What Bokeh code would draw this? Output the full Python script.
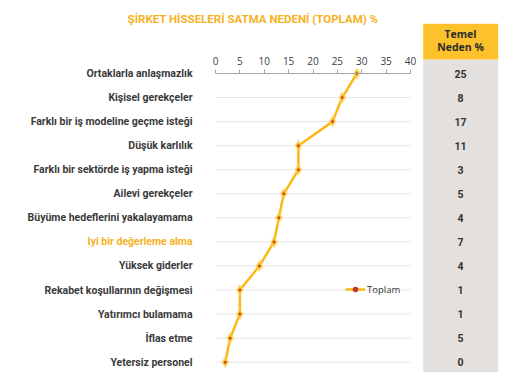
from bokeh.plotting import figure
from bokeh.models import Range1d, LinearAxis, FixedTicker, Label, Legend, LegendItem, ColumnDataSource
from bokeh.core.properties import value
from bokeh.embed import file_html
from bokeh.resources import INLINE

title = "ŞİRKET HİSSELERİ SATMA NEDENİ (TOPLAM) %"
categories = [
    "Ortaklarla anlaşmazlık",
    "Kişisel gerekçeler",
    "Farklı bir iş modeline geçme isteği",
    "Düşük karlılık",
    "Farklı bir sektörde iş yapma isteği",
    "Ailevi gerekçeler",
    "Büyüme hedeflerini yakalayamama",
    "Iyi bir değerleme alma",
    "Yüksek giderler",
    "Rekabet koşullarının değişmesi",
    "Yatırımcı bulamama",
    "İflas etme",
    "Yetersiz personel",
]
toplam = [29, 26, 24, 17, 17, 14, 13, 12, 9, 5, 5, 3, 2]
temel_neden = [25, 8, 17, 11, 3, 5, 4, 7, 4, 1, 1, 5, 0]
highlight = "Iyi bir değerleme alma"
x_ticks = [0, 5, 10, 15, 20, 25, 30, 35, 40]
series_name = "Toplam"
table_header = ["Temel", "Neden %"]

W, H = 532, 379
X0 = 215.0      # px of value 0
PXU = 4.875     # px per unit
Y0 = 73.0       # px of first row
ROW = 24.06     # px per row

def dx(px):
    return (px - X0) / PXU

def dy(py):
    return (py - Y0) / ROW

LABEL_FONT = "Roboto"
p = figure(width=W, height=H, x_range=Range1d(dx(0), dx(W)), y_range=Range1d(dy(H), dy(0)),
           output_backend="svg", toolbar_location=None, x_axis_type=None, y_axis_type=None,
           min_border=0)
p.outline_line_color = None
p.background_fill_color = "white"
p.border_fill_color = "white"

rows = list(range(len(categories)))

# table column
p.quad(left=[dx(422.7)], right=[dx(497.7)], top=[dy(59)], bottom=[dy(371.7)],
       fill_color="#E4E0DD", line_color=None)
p.quad(left=[dx(422.7)], right=[dx(497.7)], top=[dy(23.3)], bottom=[dy(59)],
       fill_color="#FDC12B", line_color=None)
p.text(x=[dx(460)] * 2, y=[dy(33), dy(46.5)], text=table_header,
       text_font=value("Open Sans"), text_font_style="bold", text_font_size="10.5px",
       text_color="#2b2b2b", text_align="center", text_baseline="middle")
p.text(x=[dx(460)] * len(rows), y=rows, text=[str(v) for v in temel_neden],
       text_font=value("Roboto"), text_font_size="10.5px", text_font_style="bold",
       text_color="#333333", text_align="center", text_baseline="middle")

# grid lines
grid_rows = rows[1:]
p.segment(x0=[x_ticks[0]] * len(grid_rows), x1=[x_ticks[-1]] * len(grid_rows),
          y0=grid_rows, y1=grid_rows, line_color="#E6E6E6", line_width=1)

# category labels
label_colors = ["#F5B21E" if c == highlight else "#3a3a3a" for c in categories]
src = ColumnDataSource(dict(x=[dx(192)] * len(rows), y=rows, t=categories, c=label_colors))
p.text(x="x", y="y", text="t", text_color="c", source=src,
       text_font=value(LABEL_FONT), text_font_style="bold", text_font_size="10.5px",
       text_align="right", text_baseline="middle")

# axis
ax = LinearAxis(ticker=FixedTicker(ticks=x_ticks), fixed_location=dy(72.7), bounds=(x_ticks[0], x_ticks[-1]))
ax.axis_line_color = "#A6A6A6"
ax.major_tick_line_color = "#A6A6A6"
ax.major_tick_out = 4
ax.major_tick_in = 0
ax.minor_tick_line_color = None
ax.major_label_text_font = "Open Sans"
ax.major_label_text_font_size = "10px"
ax.major_label_text_color = "#404040"
ax.major_label_standoff = 4
p.add_layout(ax, "above")

# series
line_r = p.line(x=toplam, y=rows, line_color="#FBB917", line_width=2.5)
halo_r = p.scatter(x=toplam, y=rows, marker="diamond", size=13, fill_color="#FDD35C",
                   fill_alpha=0.55, line_color=None)
dia_r = p.scatter(x=toplam, y=rows, marker="diamond", size=8, fill_color="#F9B91E", line_color=None)
dot_r = p.scatter(x=toplam, y=rows, marker="circle", size=2.5, fill_color="#C0392B", line_color=None)

legend = Legend(items=[LegendItem(label=series_name, renderers=[line_r, halo_r, dia_r, dot_r])],
                location=(345, 83))
legend.background_fill_alpha = 0
legend.border_line_color = None
legend.padding = 0
legend.margin = 0
legend.label_text_font = "Open Sans"
legend.label_text_font_size = "9.5px"
legend.label_text_color = "#333333"
legend.glyph_width = 20
legend.glyph_height = 14
legend.label_height = 14
legend.label_standoff = 2
p.add_layout(legend)

p.add_layout(Label(x=dx(252.5), y=dy(18), text=title, text_align="center", text_baseline="middle",
                   text_font=LABEL_FONT, text_font_style="bold", text_font_size="11.5px",
                   text_color="#F5B21E"))

open("out.html", "w").write(file_html(p, INLINE))
